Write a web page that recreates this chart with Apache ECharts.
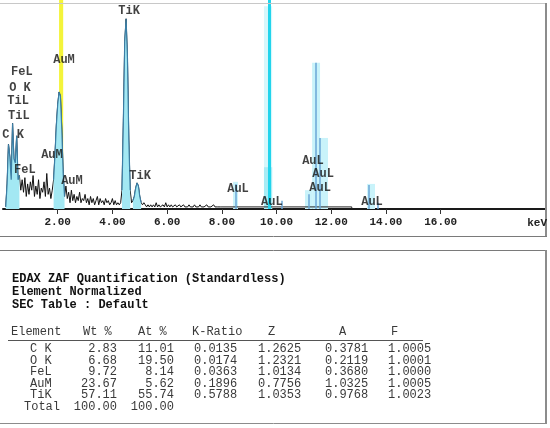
<!DOCTYPE html>
<html><head><meta charset="utf-8">
<script src="https://cdn.jsdelivr.net/npm/echarts@6/dist/echarts.min.js"></script>
<style>html,body{margin:0;padding:0;background:#fff}#c{width:550px;height:428px}</style>
</head><body><div id="c"></div>
<script>
// ---- spectrum data (relative counts, 0-100) ----
const specStart = 0.10, specStep = 0.05;
const specCounts = [
  1,12,31,25,14,41,24,22,35,14,16,9,14,8,15,6,12,7,
  13,9,16,6,11,7,14,5,10,8,13,6,17,7,10,5,9,14,26,40,
  50,56,54,38,17,6,11,5,8,3,9,4,7,3,6,4,8,3,5,4,
  7,3,5,2,6,3,5,2,4,6,2,5,3,4,2,5,3,4,2,3,
  5,2,4,2,3,2,3,9,42,80,91,72,33,9,3,4,6,10,12.5,11,
  6,3,2,3,2,1,2,1,2,1,2,1,3,1,2,1,1,2,1,3,
  1,2,1,2,1,1,2,1,1,2,1,1,2,1,1,1,2,1,1,1,
  2,1,1,1,2,1,1,1,1,2,1,1,1,1,2,1,1,1,1,1,
  1
];
const peakRanges = [[0.10,0.60],[1.85,2.25],[4.35,4.65],[4.75,5.05]];
const tailEnergies = [8.00, 12.75, 12.75];
const tailCounts = [1, 1, 0];
const auLineEnergies = [8.52, 10.20, 11.19, 11.44, 11.59, 13.38, 13.71];
const auLineHeights = [12, 4, 7, 70, 34, 11.5, 3];
const auBandStarts = [8.41, 11.04, 11.30, 11.59, 13.31];
const auBandEnds   = [8.59, 11.30, 11.59, 11.88, 13.60];
const auBandHeights = [13, 9, 70, 34, 12];
const cyanLineEnergy = 9.72, cyanLineHeight = 100;
const cyanBandStart = 9.54, cyanBandEnd = 9.84, cyanBandHeight = 97, cyanBandLowHeight = 20;
const yellowStart = 2.05, yellowEnd = 2.20;
const labelNames = ['TiK','AuM','FeL','O K','TiL','TiL','C K','AuM','FeL','AuM','TiK','AuL','AuL','AuL','AuL','AuL','AuL'];
const labelEnergies = [4.61,2.23,0.69,0.62,0.55,0.58,0.37,1.79,0.80,2.52,5.01,8.59,9.83,11.33,11.70,11.59,13.49];
const labelHeights = [94.7,71.3,65.6,57.9,51.7,44.5,35.4,25.8,18.7,13.4,15.8,9.6,3.3,23,16.7,10,3.3];
const xTicks = [2,4,6,8,10,12,14,16];

// ---- table data ----
const tableTitle = ['EDAX ZAF Quantification (Standardless)','Element Normalized','SEC Table : Default'];
const colHeaders = ['Element','Wt %','At %','K-Ratio','Z','A','F'];
const elements = ['C K','O K','FeL','AuM','TiK'];
const wtPct = [2.83, 6.68, 9.72, 23.67, 57.11];
const atPct = [11.01, 19.50, 8.14, 5.62, 55.74];
const kRatio = [0.0135, 0.0174, 0.0363, 0.1896, 0.5788];
const zVals = [1.2625, 1.2321, 1.0134, 0.7756, 1.0353];
const aVals = [0.3781, 0.2119, 0.3680, 1.0325, 0.9768];
const fVals = [1.0005, 1.0001, 1.0000, 1.0005, 1.0023];
const totalRow = ['Total', 100.00, 100.00];

const MONO = "'Liberation Mono', 'DejaVu Sans Mono', monospace";
const spec = specCounts.map((v,i)=>[+(specStart+i*specStep).toFixed(2), v]);
const peakSeries = peakRanges.map(r=>({
  type:'line', z:4, showSymbol:false, silent:true,
  data: spec.filter(p=>p[0]>=r[0]-1e-9 && p[0]<=r[1]+1e-9),
  lineStyle:{color:'#3b7ea6', width:1.2},
  areaStyle:{color:'#a3e8f3', opacity:1}
}));

const g = [];
function line(x1,y1,x2,y2,c,w){g.push({type:'line',shape:{x1,y1,x2,y2},style:{stroke:c,lineWidth:w},z:100});}
function txt(s,x,y,opt){g.push({type:'text',z:100,style:Object.assign({text:s,x,y,fontFamily:MONO,fontSize:12,fill:'#3a3a3a',textAlign:'left',align:'left',textVerticalAlign:'middle',verticalAlign:'middle'},opt||{})});}
// frames
line(0,3.5,546,3.5,'#c8c8c8',1);
line(546,3,546,237,'#8c8c8c',2);
line(0,236.5,547,236.5,'#7a7a7a',1);
line(0,250.5,547,250.5,'#7a7a7a',1);
line(546,250,546,424,'#8c8c8c',2);
line(0,423.5,547,423.5,'#8c8c8c',1);
txt('keV',547,223,{fontWeight:'bold',fontSize:11,fill:'#222',textAlign:'right',align:'right'});
// table
const titleY=[279,292,305];
tableTitle.forEach((t,i)=>txt(t,12,titleY[i],{fontWeight:'bold',fill:'#111'}));
const hx=[11,83,138,192,268,339,391];
colHeaders.forEach((h,i)=>txt(h,hx[i],332));
line(8,340.5,423,340.5,'#555',1);
const rowY=[349,361,372,384,395];
elements.forEach((e,i)=>{
  const y=rowY[i];
  txt(e,30,y);
  txt(wtPct[i].toFixed(2),117,y,{textAlign:'right',align:'right'});
  txt(atPct[i].toFixed(2),174,y,{textAlign:'right',align:'right'});
  txt(kRatio[i].toFixed(4),194,y);
  txt(zVals[i].toFixed(4),258,y);
  txt(aVals[i].toFixed(4),325,y);
  txt(fVals[i].toFixed(4),388,y);
});
txt(totalRow[0],24,407);
txt(totalRow[1].toFixed(2),117,407,{textAlign:'right',align:'right'});
txt(totalRow[2].toFixed(2),174,407,{textAlign:'right',align:'right'});

const chart = echarts.init(document.getElementById('c'),null,{renderer:'canvas'});
chart.setOption({
  animation:false,
  backgroundColor:'#fff',
  grid:{left:3,right:4,top:0,bottom:219},
  xAxis:{type:'value',min:0,max:19.85,
    axisLine:{show:true,onZero:false,lineStyle:{color:'#1a1a1a',width:2}},
    axisTick:{show:true,customValues:xTicks,length:5,lineStyle:{color:'#333',width:1}},
    axisLabel:{show:true,customValues:xTicks,formatter:v=>v.toFixed(2),fontFamily:MONO,fontWeight:'bold',fontSize:11,color:'#222',margin:8},
    splitLine:{show:false}},
  yAxis:{type:'value',min:0,max:100,show:false},
  graphic:{elements:g},
  series:[
    {type:'scatter',z:1,silent:true,data:[[0,0]],symbolSize:0,
      markArea:{silent:true,itemStyle:{color:'#c9f3fa'},data:
        auBandStarts.map((s,i)=>[{coord:[s,0]},{coord:[auBandEnds[i],auBandHeights[i]]}])
        .concat([[{coord:[cyanBandStart,0]},{coord:[cyanBandEnd,cyanBandHeight],itemStyle:{color:'#d6f7fb'}}],
                 [{coord:[cyanBandStart,0]},{coord:[cyanBandEnd,cyanBandLowHeight],itemStyle:{color:'#a8ecf5'}}]])}},
    {type:'scatter',z:2,silent:true,data:[[0,0]],symbolSize:0,
      markArea:{silent:true,itemStyle:{color:'#f4f43a'},data:[[{coord:[yellowStart,0]},{coord:[yellowEnd,100]}]]}},
    {type:'line',z:3,showSymbol:false,silent:true,data:spec,lineStyle:{color:'#111',width:1}},
    {type:'line',z:3,showSymbol:false,silent:true,data:tailEnergies.map((e,i)=>[e,tailCounts[i]]),lineStyle:{color:'#222',width:1}},
    ...peakSeries,
    {type:'scatter',z:5,silent:true,data:[[0,0]],symbolSize:0,
      markLine:{silent:true,symbol:'none',label:{show:false},lineStyle:{color:'#6aa6d6',width:1.5,type:'solid'},
        data:auLineEnergies.map((e,i)=>[{coord:[e,0]},{coord:[e,auLineHeights[i]]}])
          .concat([[{coord:[cyanLineEnergy,0],lineStyle:{color:'#22d4ec',width:3}},{coord:[cyanLineEnergy,cyanLineHeight]}]])}},
    {type:'scatter',z:6,silent:true,symbolSize:0,
      data:labelNames.map((n,i)=>({name:n,value:[labelEnergies[i],labelHeights[i]]})),
      label:{show:true,position:'inside',formatter:'{b}',fontFamily:MONO,fontWeight:'bold',fontSize:12,color:'#111'}}
  ]
});
</script></body></html>
